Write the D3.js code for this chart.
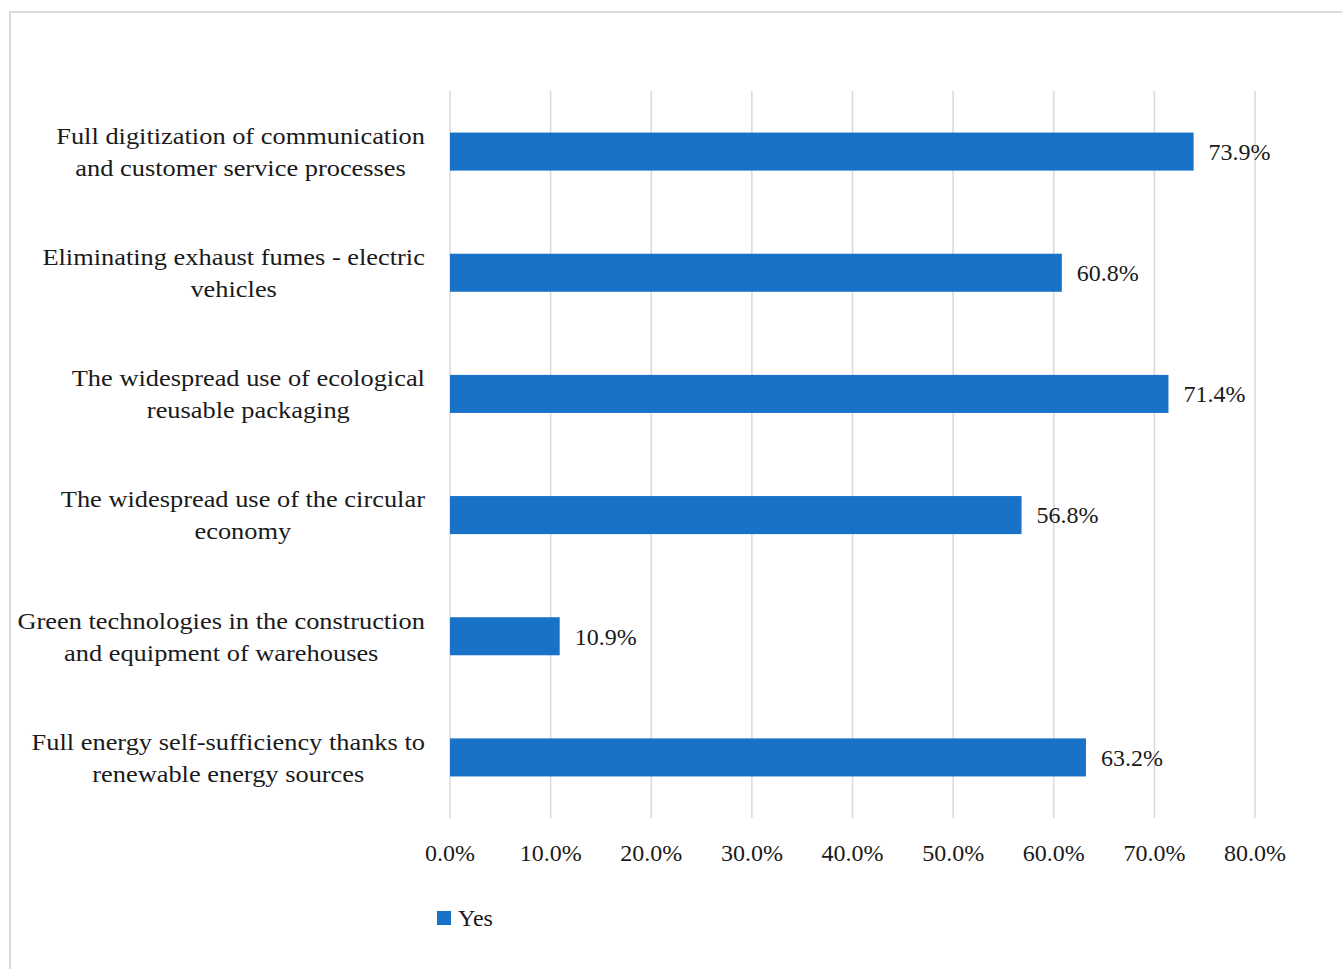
<!DOCTYPE html>
<html lang="en">
<head>
  <meta charset="UTF-8">
  <title>Yes responses</title>
  <style>
    body { margin: 0; background: #fff; }
    svg text { font-family: "Palatino Linotype", "Book Antiqua", Palatino, "Liberation Serif", serif; fill: #1a1a1a; }
  </style>
</head>
<body>
<div id="chart"></div>
<script src="https://d3js.org/d3.v7.min.js"></script>
<script>
  // categories (as wrapped in the original), top to bottom
  const categories = [
    ["Full digitization of communication", "and customer service processes"],
    ["Eliminating exhaust fumes - electric", "vehicles"],
    ["The widespread use of ecological", "reusable packaging"],
    ["The widespread use of the circular", "economy"],
    ["Green technologies in the construction", "and equipment of warehouses"],
    ["Full energy self-sufficiency thanks to", "renewable energy sources"]
  ];
  const yesValues = [73.9, 60.8, 71.4, 56.8, 10.9, 63.2];
  const xTicks = [0, 10, 20, 30, 40, 50, 60, 70, 80];
  const seriesName = "Yes";

  const width = 1342, height = 969;
  const plot = { left: 450, right: 1255, top: 91, bottom: 818 };
  const fontSize = 24;
  const barColor = "#1872c8";

  const svg = d3.select("#chart").append("svg")
    .attr("width", width)
    .attr("height", height);

  // outer frame
  svg.append("rect")
    .attr("x", 10).attr("y", 12)
    .attr("width", width + 10).attr("height", height + 10)
    .attr("fill", "none")
    .attr("stroke", "#d9d9d9")
    .attr("stroke-width", 2);

  const x = d3.scaleLinear().domain([0, 80]).range([plot.left, plot.right]);
  const y = d3.scaleBand()
    .domain(d3.range(categories.length))
    .range([plot.top, plot.bottom])
    .paddingInner(0.686)
    .paddingOuter(0.343);

  // gridlines
  svg.append("g")
    .selectAll("line")
    .data(xTicks)
    .join("line")
    .attr("x1", d => x(d)).attr("x2", d => x(d))
    .attr("y1", plot.top).attr("y2", plot.bottom)
    .attr("stroke", "#d9d9d9")
    .attr("stroke-width", 1.5);

  // tick labels
  svg.append("g")
    .selectAll("text")
    .data(xTicks)
    .join("text")
    .attr("x", d => x(d))
    .attr("y", 861)
    .attr("text-anchor", "middle")
    .style("font-size", fontSize + "px")
    .text(d => d.toFixed(1) + "%");

  // bars
  svg.append("g")
    .selectAll("rect")
    .data(yesValues)
    .join("rect")
    .attr("x", x(0))
    .attr("y", (d, i) => y(i))
    .attr("width", d => x(d) - x(0))
    .attr("height", y.bandwidth())
    .attr("fill", barColor);

  // value labels
  svg.append("g")
    .selectAll("text")
    .data(yesValues)
    .join("text")
    .attr("x", d => x(d) + 15)
    .attr("y", (d, i) => y(i) + y.bandwidth() / 2)
    .attr("dy", "0.35em")
    .style("font-size", fontSize + "px")
    .text(d => d.toFixed(1) + "%");

  // category labels: block right-aligned, lines centered inside block
  // (stretched a bit since the original face is wider than the fallback)
  const labelRight = 425;
  const lineGap = 32;
  const stretch = 1.1;
  categories.forEach((lines, i) => {
    const g = svg.append("g");
    const texts = g.selectAll("text")
      .data(lines)
      .join("text")
      .style("font-size", fontSize + "px")
      .attr("text-anchor", "middle")
      .attr("dy", "0.35em")
      .text(d => d);
    const maxW = d3.max(texts.nodes(), n => n.getComputedTextLength()) * stretch;
    const cy = y(i) + y.bandwidth() / 2;
    const y0 = cy - (lines.length - 1) * lineGap / 2;
    g.attr("transform", `translate(${labelRight - maxW / 2},0) scale(${stretch},1)`);
    texts.attr("x", 0)
      .attr("y", (d, j) => y0 + j * lineGap);
  });

  // legend
  const legend = svg.append("g").attr("transform", "translate(437,911)");
  legend.append("rect")
    .attr("width", 14).attr("height", 14)
    .attr("fill", barColor);
  legend.append("text")
    .attr("x", 21).attr("y", 7)
    .attr("dy", "0.35em")
    .style("font-size", fontSize + "px")
    .text(seriesName);
</script>
</body>
</html>
